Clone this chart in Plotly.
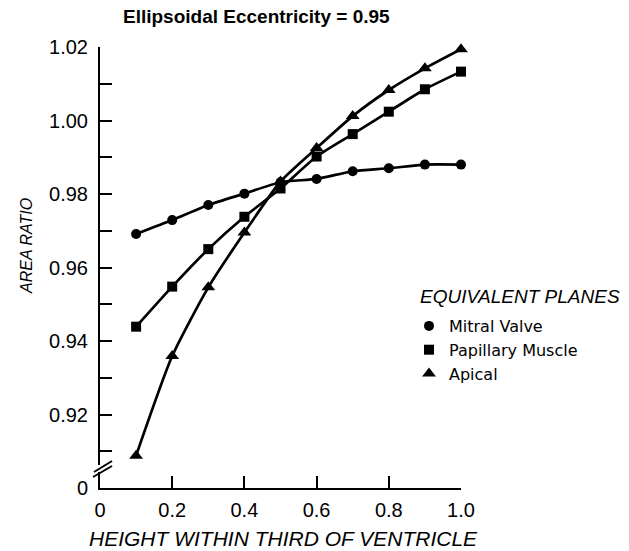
import plotly.graph_objects as go

# ---- data ----
height = [0.1, 0.2, 0.3, 0.4, 0.5, 0.6, 0.7, 0.8, 0.9, 1.0]
mitral_valve = [0.9691, 0.9729, 0.9770, 0.9801, 0.9832, 0.9841, 0.9862, 0.9870, 0.9880, 0.9880]
papillary_muscle = [0.9439, 0.9548, 0.9650, 0.9738, 0.9815, 0.9902, 0.9963, 1.0024, 1.0085, 1.0133]
apical = [0.9088, 0.9359, 0.9546, 0.9695, 0.9834, 0.9925, 1.0012, 1.0083, 1.0142, 1.0194]

series_names = ["Mitral Valve", "Papillary Muscle", "Apical"]
x_tick_vals = [0, 0.2, 0.4, 0.6, 0.8, 1.0]
x_tick_text = ["0", "0.2", "0.4", "0.6", "0.8", "1.0"]
y_tick_vals = [0.90, 0.91, 0.92, 0.93, 0.94, 0.95, 0.96, 0.97, 0.98, 0.99, 1.00, 1.01, 1.02]
y_tick_text = ["0", "", "0.92", "", "0.94", "", "0.96", "", "0.98", "", "1.00", "", "1.02"]

FONT = "Liberation Sans"
BLACK = "black"

fig = go.Figure()
series = [mitral_valve, papillary_muscle, apical]
symbols = ["circle", "square", "triangle-up"]
sizes = [10, 10, 12]
for name, vals, sym, sz in zip(series_names, series, symbols, sizes):
    fig.add_trace(go.Scatter(x=height, y=vals, mode="lines", showlegend=False,
                             line=dict(color=BLACK, width=2.7, shape="spline", smoothing=0.6),
                             cliponaxis=False, hoverinfo="skip"))
    fig.add_trace(go.Scatter(x=height, y=vals, mode="markers", name=name,
                             marker=dict(symbol=sym, size=sz, color=BLACK),
                             cliponaxis=False))

L, T, W, H = 100, 47, 361, 441

def px_x(p):
    return (p - L) / W

def px_y(p):
    return (T + H - p) / H

fig.update_layout(
    width=629, height=551,
    margin=dict(l=L, r=629 - L - W, t=T, b=551 - T - H, autoexpand=False),
    paper_bgcolor="white", plot_bgcolor="white",
    font=dict(family=FONT, color=BLACK, size=17),
    showlegend=True,
    legend=dict(
        x=px_x(409), y=px_y(309), xanchor="left", yanchor="top",
        bgcolor="rgba(0,0,0,0)",
        font=dict(family="DejaVu Sans", size=16, color=BLACK),
        itemwidth=30, tracegroupgap=0,
    ),
    xaxis=dict(
        range=[0, 1.0], showgrid=False, zeroline=False,
        showline=True, linecolor=BLACK, linewidth=2,
        ticks="inside", ticklen=12, tickwidth=2, tickcolor=BLACK,
        tickvals=x_tick_vals, ticktext=x_tick_text,
        tickfont=dict(family=FONT, size=20, color=BLACK),
        ticklabelstandoff=3,
    ),
    yaxis=dict(
        range=[0.90, 1.02], showgrid=False, zeroline=False,
        showline=True, linecolor=BLACK, linewidth=2,
        ticks="inside", ticklen=12, tickwidth=2, tickcolor=BLACK,
        tickvals=y_tick_vals, ticktext=y_tick_text,
        tickfont=dict(family=FONT, size=20, color=BLACK),
        ticklabelstandoff=6,
    ),
)

# titles as annotations
fig.add_annotation(text="<b>Ellipsoidal Eccentricity = 0.95</b>", xref="paper", yref="paper",
                   x=px_x(256), y=px_y(17), xanchor="center", yanchor="middle", showarrow=False,
                   font=dict(family=FONT, size=19, color=BLACK))
fig.add_annotation(text="HEIGHT WITHIN THIRD OF VENTRICLE", xref="paper", yref="paper",
                   x=px_x(283), y=px_y(538), xanchor="center", yanchor="middle", showarrow=False,
                   font=dict(family=FONT, size=21, color=BLACK, style="italic"))
fig.add_annotation(text="AREA RATIO", xref="paper", yref="paper", textangle=-90,
                   x=px_x(26), y=px_y(246), xanchor="center", yanchor="middle", showarrow=False,
                   font=dict(family=FONT, size=16, color=BLACK, style="italic"))
fig.add_annotation(text="EQUIVALENT PLANES", xref="paper", yref="paper",
                   x=px_x(418), y=px_y(296), xanchor="left", yanchor="middle", showarrow=False,
                   font=dict(family=FONT, size=19, color=BLACK, style="italic"))

# axis break marks on the y axis
fig.add_shape(type="rect", xref="paper", yref="paper",
              x0=px_x(96), x1=px_x(104), y0=px_y(472), y1=px_y(465),
              fillcolor="white", line=dict(width=0), layer="above")
for (xa, ya, xb, yb) in [(93, 477, 112, 466), (94, 472, 112, 461)]:
    fig.add_shape(type="line", xref="paper", yref="paper",
                  x0=px_x(xa), y0=px_y(ya), x1=px_x(xb), y1=px_y(yb),
                  line=dict(color=BLACK, width=2), layer="above")

fig.write_html("out.html", config={"displayModeBar": False},
               post_script="document.body.style.margin='0';")
